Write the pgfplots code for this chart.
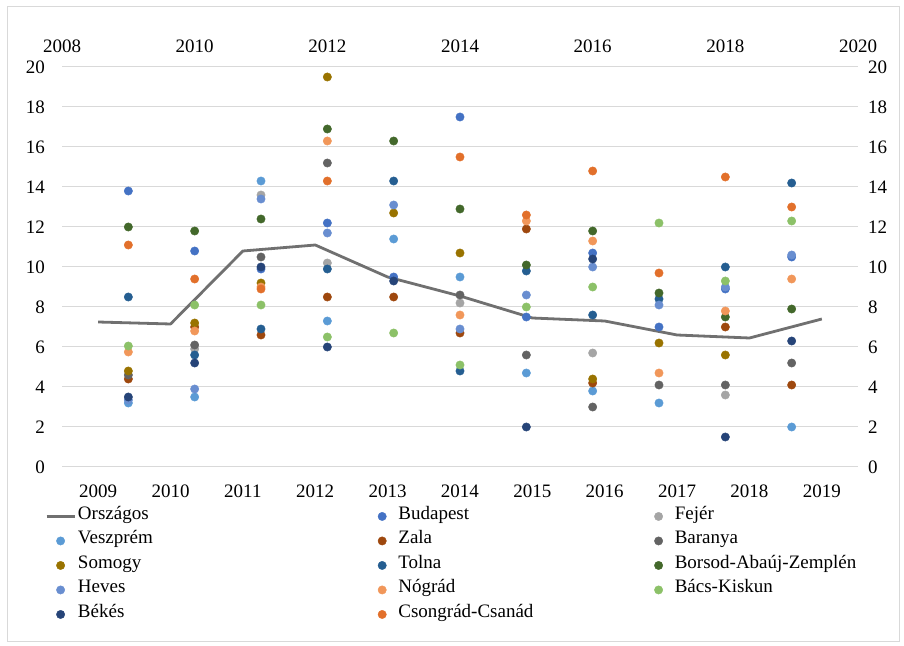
\documentclass[border=0pt]{standalone}
\usepackage{fontspec}
\setmainfont{Liberation Serif}
\usepackage{pgfplots}
\pgfplotsset{compat=1.18}

\definecolor{cOrsz}{HTML}{707070}
\definecolor{cBud}{HTML}{4472C4}
\definecolor{cFej}{HTML}{A5A5A5}
\definecolor{cVesz}{HTML}{5B9BD5}
\definecolor{cZala}{HTML}{9E480E}
\definecolor{cBar}{HTML}{636363}
\definecolor{cSom}{HTML}{997300}
\definecolor{cTol}{HTML}{255E91}
\definecolor{cBor}{HTML}{43682B}
\definecolor{cHev}{HTML}{698ED0}
\definecolor{cNog}{HTML}{F1975A}
\definecolor{cBacs}{HTML}{8CC168}
\definecolor{cBek}{HTML}{264478}
\definecolor{cCso}{HTML}{E2702B}
\definecolor{cGrid}{HTML}{D9D9D9}

\newcommand{\fs}{\fontsize{19}{23}\selectfont}
\newcommand{\LA}[1]{\makebox[290pt][l]{#1}}
\newcommand{\LB}[1]{\makebox[246pt][l]{#1}}

\pgfplotsset{
  dotlegend/.style={legend image code/.code={\path (0pt,0pt) (28pt,0pt); \draw[##1] plot coordinates {(14pt,0pt)};}},
  linelegend/.style={legend image code/.code={\draw[##1] (0pt,0pt) -- (28pt,0pt);}},
  dot/.style={only marks, mark=*, mark size=4.2pt, color=#1, mark options={draw=#1, fill=#1}, dotlegend},
  base/.style={
    at={(62pt,178pt)}, anchor=south west, scale only axis,
    width=796pt, height=400pt, ymin=0, ymax=20, ytick={0,2,...,20},
    axis line style={draw=none}, major tick length=0pt,
    tick label style={font=\fs, inner sep=0pt},
    /pgf/number format/assume math mode=true,
    x tick label style={/pgf/number format/1000 sep={}},
    clip=false,
  },
}

\begin{document}
\begin{tikzpicture}
\useasboundingbox (0pt,0pt) rectangle (904pt,645pt);
\draw[cGrid, line width=1pt] (7pt,4pt) rectangle (899pt,638pt);

\begin{axis}[base,
  xmin=2008.5, xmax=2019.5, xtick={2009,...,2019},
  axis x line*=bottom, axis y line*=left,
  ymajorgrids, grid style={cGrid, line width=1pt},
  xticklabel shift=18pt, yticklabel shift=17pt,
]
\addplot[cOrsz, line width=2.8pt, line join=round] coordinates {
(2009,7.25) (2010,7.15) (2011,10.8) (2012,11.1) (2013,9.5) (2014,8.55)
(2015,7.45) (2016,7.3) (2017,6.6) (2018,6.45) (2019,7.4)};
\end{axis}

\begin{axis}[base,
  xmin=2008, xmax=2020, xtick={2008,2010,...,2020},
  axis x line*=top, axis y line*=right,
  xticklabel shift=14pt, yticklabel shift=10pt,
  legend columns=3, legend cell align=left,
  legend style={at={(-0.02136,-0.0925)}, anchor=north west, draw=none, fill=none,
    font=\fs, inner sep=0pt, row sep=0pt,
    /tikz/every odd column/.append style={column sep=2pt},
    nodes={inner sep=0pt, text height=15pt, text depth=9.5pt}},
]
\addlegendimage{linelegend, cOrsz, line width=2.8pt}
\addlegendentry{\LA{Országos}}

\addplot[dot=cBud] coordinates {(2009,13.8) (2010,10.8) (2011,9.9) (2012,12.2) (2013,9.5) (2014,17.5) (2015,7.5) (2016,10.7) (2017,7.0) (2018,8.9) (2019,10.5)};
\addlegendentry{\LB{Budapest}}

\addplot[dot=cFej] coordinates {(2010,5.9) (2011,13.6) (2012,10.2) (2014,8.2) (2016,5.7) (2018,3.6)};
\addlegendentry{Fejér}

\addplot[dot=cVesz] coordinates {(2009,3.2) (2010,3.5) (2011,14.3) (2012,7.3) (2013,11.4) (2014,9.5) (2015,4.7) (2016,3.8) (2017,3.2) (2019,2.0)};
\addlegendentry{\LA{Veszprém}}

\addplot[dot=cZala] coordinates {(2009,4.4) (2010,7.0) (2011,6.6) (2012,8.5) (2013,8.5) (2014,6.7) (2015,11.9) (2016,4.2) (2018,7.0) (2019,4.1)};
\addlegendentry{\LB{Zala}}

\addplot[dot=cBar] coordinates {(2009,4.6) (2010,6.1) (2011,10.5) (2012,15.2) (2014,8.6) (2015,5.6) (2016,3.0) (2017,4.1) (2018,4.1) (2019,5.2)};
\addlegendentry{Baranya}

\addplot[dot=cSom] coordinates {(2009,4.8) (2010,7.2) (2011,9.2) (2012,19.5) (2013,12.7) (2014,10.7) (2016,4.4) (2017,6.2) (2018,5.6)};
\addlegendentry{\LA{Somogy}}

\addplot[dot=cTol] coordinates {(2009,8.5) (2010,5.6) (2011,6.9) (2012,9.9) (2013,14.3) (2014,4.8) (2015,9.8) (2016,7.6) (2017,8.4) (2018,10.0) (2019,14.2)};
\addlegendentry{\LB{Tolna}}

\addplot[dot=cBor] coordinates {(2009,12.0) (2010,11.8) (2011,12.4) (2012,16.9) (2013,16.3) (2014,12.9) (2015,10.1) (2016,11.8) (2017,8.7) (2018,7.5) (2019,7.9)};
\addlegendentry{Borsod-Abaúj-Zemplén}

\addplot[dot=cHev] coordinates {(2009,3.35) (2010,3.9) (2011,13.4) (2012,11.7) (2013,13.1) (2014,6.9) (2015,8.6) (2016,10.0) (2017,8.1) (2018,9.0) (2019,10.6)};
\addlegendentry{\LA{Heves}}

\addplot[dot=cNog] coordinates {(2009,5.75) (2010,6.8) (2011,9.0) (2012,16.3) (2014,7.6) (2015,12.3) (2016,11.3) (2017,4.7) (2018,7.8) (2019,9.4)};
\addlegendentry{\LB{Nógrád}}

\addplot[dot=cBacs] coordinates {(2009,6.05) (2010,8.1) (2011,8.1) (2012,6.5) (2013,6.7) (2014,5.1) (2015,8.0) (2016,9.0) (2017,12.2) (2018,9.3) (2019,12.3)};
\addlegendentry{Bács-Kiskun}

\addplot[dot=cBek] coordinates {(2009,3.5) (2010,5.2) (2011,10.0) (2012,6.0) (2013,9.3) (2015,2.0) (2016,10.4) (2018,1.5) (2019,6.3)};
\addlegendentry{\LA{Békés}}

\addplot[dot=cCso] coordinates {(2009,11.1) (2010,9.4) (2011,8.9) (2012,14.3) (2014,15.5) (2015,12.6) (2016,14.8) (2017,9.7) (2018,14.5) (2019,13.0)};
\addlegendentry{\LB{Csongrád-Csanád}}
\end{axis}
\end{tikzpicture}
\end{document}
